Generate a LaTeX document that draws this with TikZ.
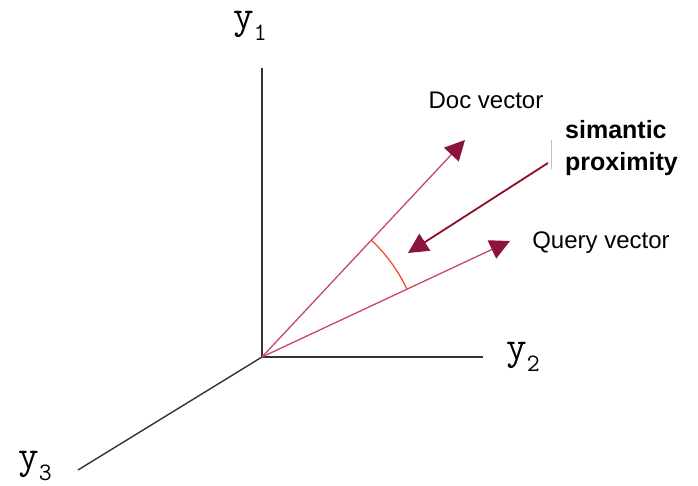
\documentclass[tikz,border=0pt]{standalone}
\usepackage{fontspec}
\setmainfont{Liberation Sans}
\usetikzlibrary{arrows.meta}

\definecolor{vecline}{RGB}{200,70,110}
\definecolor{vechead}{RGB}{140,20,60}
\definecolor{proxline}{RGB}{140,15,35}
\definecolor{anglearc}{RGB}{240,80,40}

% axis names: Courier-like y with a lowered index
\newcommand{\axisname}[1]{{\ttfamily\fontsize{40}{40}\selectfont y}\raisebox{-12pt}{\ttfamily\fontsize{25}{25}\selectfont #1}}

\begin{document}
\begin{tikzpicture}[
    x=1pt, y=1pt,
    axis/.style={draw=black!80, line width=1.4pt},
    axislabel/.style={inner sep=0pt, anchor=base west},
    vec/.style={draw=vecline, line width=1.3pt, -{Triangle[length=20pt, width=20pt, color=vechead]}},
    prox/.style={draw=proxline, line width=1.8pt, -{Triangle[length=20pt, width=20pt, color=vechead]}},
    label/.style={inner sep=0pt, font=\fontsize{24}{28}\selectfont}
]
\useasboundingbox (0,0) rectangle (698,486);

% axes
\coordinate (origin) at (262,129);
\coordinate (y1end) at (262,418);
\coordinate (y2end) at (483,129);
\coordinate (y3end) at (78,16);
\draw[axis] (origin) -- (y1end);
\draw[axis] (origin) -- (y2end);
\draw[axis] (origin) -- (y3end);
\node[axislabel] (y1) at (233,457) {\axisname{1}};
\node[axislabel] (y2) at (506,126) {\axisname{2}};
\node[axislabel] (y3) at (18,17) {\axisname{3}};

% vectors
\coordinate (doctip) at (465,346);
\coordinate (querytip) at (510,245);
\draw[vec] (origin) -- (doctip);
\draw[vec] (origin) -- (querytip);
\node[label] (doc) at (486,386) {Doc vector};
\node[label] (query) at (601,243) {Query vector};

% angle between them
\draw[anglearc, line width=1.3pt] (origin) ++(25.1:160) arc[start angle=25.1, end angle=46.9, radius=160];

% semantic proximity
\node[inner sep=0pt, anchor=north west, align=left, font=\bfseries\fontsize{25}{32}\selectfont] (sim) at (565,366) {simantic\\proximity};
\coordinate (proxstart) at (548,323);
\coordinate (proxtip) at (408,233);
\draw[prox] (proxstart) -- (proxtip);
\draw[black!25, line width=0.6pt] (551,317) -- (551,346);
\end{tikzpicture}
\end{document}
